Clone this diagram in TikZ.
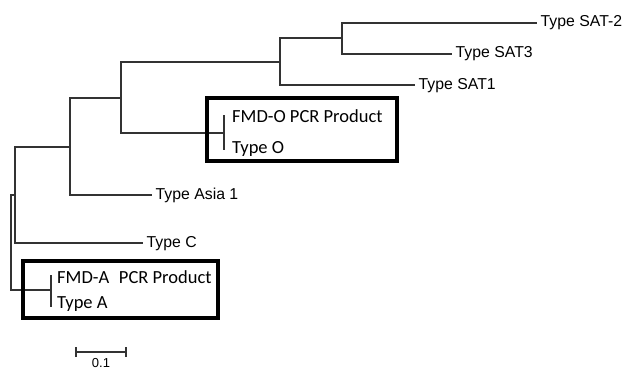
\documentclass[tikz,border=0pt]{standalone}
\usepackage{fontspec}
\setmainfont{Liberation Sans}
\newfontfamily\calibri{Carlito}
\begin{document}
\begin{tikzpicture}[x=1pt,y=-1pt,
  branch/.style={draw=black!80,line width=1.35pt},
  leaf/.style={anchor=west,inner xsep=3.5pt,inner ysep=0pt,
    font=\fontsize{15.8}{16}\selectfont,text height=11pt,text depth=3pt},
  boxlabel/.style={anchor=base west,inner sep=0pt,font=\calibri\fontsize{18.5}{19}\selectfont},
  framebox/.style={draw=black,line width=3.4pt}]
\useasboundingbox (0,0) rectangle (629,369);

% internal nodes of the tree
\coordinate (root) at (11,242.5);
\coordinate (n2) at (15,195);
\coordinate (n3) at (70,147);
\coordinate (n4) at (121,98);
\coordinate (n5) at (280,62);
\coordinate (n6) at (342,38);
\coordinate (oclade) at (224,133);
\coordinate (aclade) at (51,290);

% leaf labels
\node[leaf] (sat2) at (537,23) {Type SAT-2};
\node[leaf] (sat3) at (452,54) {Type SAT3};
\node[leaf] (sat1) at (415,85) {Type SAT1};
\node[leaf] (asia) at (152,195) {Type Asia 1};
\node[leaf] (typec) at (143,243) {Type C};

% boxed clades
\node[boxlabel] (fmdo) at (232,122) {FMD-O PCR Product};
\node[boxlabel] (typeo) at (232,153) {Type O};
\node[boxlabel] (fmda) at (57,283) {FMD-A\hspace{0.3em} PCR Product};
\node[boxlabel] (typea) at (57,308) {Type A};
\coordinate (otop) at (224,115);
\coordinate (obot) at (224,150);
\coordinate (atop) at (51,275);
\coordinate (abot) at (51,307);

% branches
\path[branch] (n6) |- (sat2.west);
\path[branch] (n6) |- (sat3.west);
\path[branch] (n5) |- (n6);
\path[branch] (n5) |- (sat1.west);
\path[branch] (n4) |- (n5);
\path[branch] (n4) |- (oclade);
\path[branch] (n3) |- (n4);
\path[branch] (n3) |- (asia.west);
\path[branch] (n2) |- (n3);
\path[branch] (n2) |- (typec.west);
\path[branch] (root) |- (n2);
\path[branch] (root) |- (aclade);
\path[branch] (otop) -- (obot);
\path[branch] (atop) -- (abot);

% frames around the PCR products
\draw[framebox] (207,98) rectangle (397,161);
\draw[framebox] (23,261) rectangle (218,318);

% scale bar
\coordinate (sbl) at (76,352);
\coordinate (sbr) at (126,352);
\path[branch] (sbl) -- (sbr);
\path[branch] ([yshift=-5]sbl) -- ([yshift=5]sbl);
\path[branch] ([yshift=-5]sbr) -- ([yshift=5]sbr);
\node[anchor=north,inner sep=0pt,font=\fontsize{13}{14}\selectfont] (sblabel) at (101,358) {0.1};
\end{tikzpicture}
\end{document}
